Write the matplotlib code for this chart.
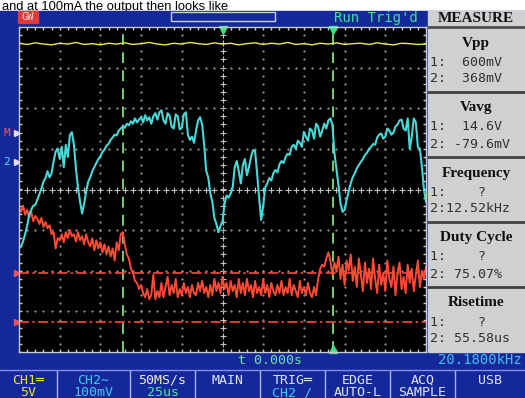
import matplotlib
matplotlib.use('Agg')
import matplotlib.pyplot as plt
import matplotlib.patches as patches
import numpy as np

W, H = 525, 398

# traces, in screen divisions from centre (10 x 8 divisions)
ch1_div = [3.60, 3.57, 3.61, 3.58, 3.56, 3.60, 3.58, 3.62, 3.57, 3.59,
           3.56, 3.60, 3.58, 3.61, 3.57, 3.59, 3.62, 3.58, 3.56, 3.60,
           3.58, 3.62, 3.59, 3.57, 3.61, 3.58, 3.60, 3.56, 3.59, 3.61,
           3.57, 3.60, 3.58, 3.62, 3.57, 3.59, 3.56, 3.60, 3.58, 3.61,
           3.57, 3.59, 3.60, 3.57, 3.61, 3.58, 3.56, 3.60, 3.59, 3.57, 3.58]

ch2_div = [-1.45, -1.40, -1.28, -1.10, -0.90, -0.62, -0.50, -0.40, -0.38, -0.25,
           -0.12, 0.02, 0.19, 0.28, 0.45, 0.30, 0.40, 0.69, 0.93, 1.01,
           0.75, 1.05, 0.55, 1.10, 0.80, 1.34, 1.41, 1.10, 0.50, 0.05,
           -0.30, -0.59, -0.35, -0.05, 0.19, 0.30, 0.45, 0.55, 0.65, 0.75,
           0.82, 0.92, 0.98, 1.08, 1.12, 1.22, 1.28, 1.35, 1.33, 1.45,
           1.50, 1.55, 1.52, 1.62, 1.58, 1.68, 1.62, 1.75, 1.65, 1.72,
           1.78, 1.65, 1.83, 1.70, 1.78, 1.62, 1.80, 1.88, 1.72, 1.90,
           1.95, 1.70, 1.62, 1.88, 1.82, 1.55, 1.50, 1.85, 1.80, 1.48,
           1.52, 1.85, 1.90, 1.35, 1.22, 1.30, 1.15, 1.45, 1.70, 1.78,
           1.60, 1.10, 0.45, 0.30, -0.10, -0.30, -0.70, -0.85, -1.05, -0.90,
           -0.80, -0.35, -0.15, -0.20, -0.10, 0.05, 0.55, 0.70, 0.45, 0.15,
           0.60, 0.75, 0.35, 0.55, 0.80, 0.97, 0.95, 0.40, -0.20, -0.75,
           -0.40, 0.05, 0.15, 0.28, 0.22, 0.40, 0.48, 0.42, 0.62, 0.70,
           0.65, 0.80, 0.88, 0.85, 1.05, 1.10, 1.00, 1.20, 1.15, 1.05,
           1.42, 1.30, 1.20, 1.50, 1.45, 1.25, 1.62, 1.55, 1.30, 1.45,
           1.62, 1.50, 1.70, 1.75, 1.60, 0.90, 0.50, 0.10, -0.35, -0.55,
           -0.50, -0.25, -0.05, 0.15, 0.30, 0.40, 0.52, 0.60, 0.68, 0.75,
           0.85, 0.90, 1.00, 1.05, 1.12, 1.10, 1.28, 1.35, 1.38, 1.25,
           1.30, 1.50, 1.45, 1.35, 1.40, 1.55, 1.60, 1.70, 1.72, 1.50,
           1.45, 1.75, 1.00, 1.30, 1.75, 1.65, 1.05, 1.00, 0.55, 0.00,
           -0.30]

ref_div = [-0.45, -0.55, -0.40, -0.62, -0.50, -0.70, -0.55, -0.78, -0.65, -0.72,
           -0.85, -0.70, -0.92, -0.80, -0.95, -0.88, -1.10, -1.05, -1.45, -1.20,
           -1.25, -1.10, -1.30, -1.05, -1.20, -1.00, -1.15, -1.10, -1.28, -1.05,
           -1.25, -1.15, -1.35, -1.10, -1.30, -1.40, -1.20, -1.50, -1.25, -1.45,
           -1.30, -1.55, -1.35, -1.60, -1.40, -1.65, -1.45, -1.75, -1.30, -1.50,
           -1.10, -1.05, -1.35, -1.60, -1.70, -1.95, -2.05, -2.25, -2.30, -2.45,
           -2.35, -2.55, -2.65, -2.45, -2.70, -2.60, -2.10, -2.70, -2.50, -2.65,
           -2.30, -2.65, -2.40, -2.15, -2.60, -2.35, -2.55, -2.20, -2.65, -2.45,
           -2.60, -2.30, -2.55, -2.40, -2.65, -2.35, -2.55, -2.60, -2.30, -2.50,
           -2.25, -2.55, -2.40, -2.65, -2.35, -2.60, -2.20, -2.50, -2.30, -2.55,
           -2.15, -2.45, -2.30, -2.60, -2.25, -2.50, -2.35, -2.65, -2.20, -2.55,
           -2.30, -2.60, -2.20, -2.50, -2.35, -2.65, -2.25, -2.55, -2.40, -2.60,
           -2.20, -2.55, -2.35, -2.65, -2.30, -2.50, -2.60, -2.35, -2.55, -2.25,
           -2.60, -2.40, -2.55, -2.20, -2.60, -2.35, -2.50, -2.65, -2.25, -2.55,
           -2.40, -2.60, -2.30, -2.55, -2.65, -2.40, -2.60, -2.20, -1.95, -1.85,
           -1.90, -1.70, -1.55, -1.75, -2.10, -1.80, -2.00, -1.65, -2.20, -1.85,
           -2.35, -1.75, -2.00, -1.60, -2.25, -1.90, -2.40, -1.70, -2.10, -2.50,
           -1.80, -2.30, -1.95, -2.45, -1.70, -2.20, -2.55, -1.85, -2.35, -2.05,
           -2.50, -1.75, -2.20, -2.40, -1.90, -2.60, -2.05, -1.80, -2.45, -2.15,
           -2.55, -1.85, -2.30, -1.95, -2.50, -2.10, -1.75, -2.40, -2.00, -2.20,
           -1.90]

cursor_t = [-2.44, 2.72]
cursor_v = [-2.06, -3.26]

measure_names = ['Vpp', 'Vavg', 'Frequency', 'Duty Cycle', 'Risetime']
measure_ch1 = ['1:  600mV', '1:  14.6V', '1:    ?', '1:    ?', '1:    ?']
measure_ch2 = ['2:  368mV', '2: -79.6mV', '2:12.52kHz', '2: 75.07%', '2: 55.58us']

menu_top = ['CH1\u2550', 'CH2\u223c', '50MS/s', 'MAIN', 'TRIG\u2550', 'EDGE', 'ACQ', 'USB']
menu_bottom = ['5V', '100mV', '25us', '', 'CH2 /', 'AUTO-L', 'SAMPLE', '']
menu_top_col = ['#f0e030', '#40c8f0', '#f0f0c0', '#dde4ff', '#dde4ff', '#dde4ff', '#dde4ff', '#dde4ff']
menu_bot_col = ['#f0e030', '#40c8f0', '#50e0a0', '#dde4ff', '#40c8f0', '#dde4ff', '#dde4ff', '#dde4ff']

BLUE = '#14289a'
GRAY = '#d0d0d0'
MONO = 'DejaVu Sans Mono'

fig = plt.figure(figsize=(W / 100, H / 100), dpi=100)
fig.patch.set_facecolor(BLUE)

# pixel canvas for the frame around the screen
bg = fig.add_axes([0, 0, 1, 1])
bg.set_xlim(0, W)
bg.set_ylim(H, 0)
bg.axis('off')

bg.text(2, 9.6, 'and at 100mA the output then looks like', fontsize=9.3,
        family='Liberation Sans', color='black', va='baseline', zorder=1)
bg.add_patch(patches.Rectangle((0, -5), W, 15, color='white', zorder=0))
bg.add_patch(patches.Rectangle((0, 10.5), W, H, color=BLUE, zorder=2))

# top bar
bg.add_patch(patches.Rectangle((18, 11), 20, 12, color='#e03a3a', zorder=3))
bg.text(28, 17.5, 'GW', fontsize=7.5, family=MONO, color='#ffd0d0',
        ha='center', va='center', zorder=4)
bg.add_patch(patches.Rectangle((171, 12), 104, 9, fill=False,
                               edgecolor='#c8d0f0', lw=1, zorder=3))
bg.text(418, 18, "Run Trig'd", fontsize=10, family=MONO, color='#40e090',
        ha='right', va='center', zorder=4)

# measure panel
bg.add_patch(patches.Rectangle((428, 10.5), 97, 341.5, color=GRAY, zorder=3))
bg.text(476, 18.5, 'MEASURE', fontsize=11, family='Liberation Serif',
        weight='bold', color='#101010', ha='center', va='center', zorder=4)
bg.plot([428, 525], [27, 27], color='#505050', lw=2, zorder=4)
sect_top = [29, 94, 159, 224, 289]
for i, name in enumerate(measure_names):
    y0 = sect_top[i]
    bg.text(476, y0 + 14, name, fontsize=11, family='Liberation Serif',
            weight='bold', color='#101010', ha='center', va='center', zorder=4)
    bg.text(430, y0 + 33, measure_ch1[i], fontsize=9.5, family=MONO,
            color='#303030', va='center', zorder=4)
    bg.text(430, y0 + 50, measure_ch2[i], fontsize=9.5, family=MONO,
            color='#303030', va='center', zorder=4)
    if i > 0:
        bg.plot([428, 525], [y0 - 2, y0 - 2], color='#404040', lw=2, zorder=4)

# bottom status + menu
bg.text(270, 360, 't 0.000s', fontsize=9.5, family=MONO, color='#70e0a0',
        ha='center', va='center', zorder=4)
bg.text(522, 360, '20.1800kHz', fontsize=10, family=MONO, color='#40c0f0',
        ha='right', va='center', zorder=4)
bg.plot([0, W], [370, 370], color='#8090e0', lw=1, zorder=4)
cell_edges = [0, 57, 130, 195, 260, 325, 390, 455, 525]
for e in cell_edges[1:-1]:
    bg.plot([e, e], [371, H], color='#a8b4ff', lw=1, zorder=4)
for i in range(len(menu_top)):
    cx = (cell_edges[i] + cell_edges[i + 1]) / 2
    bg.text(cx, 380, menu_top[i], fontsize=9.5, family=MONO,
            color=menu_top_col[i], ha='center', va='center', zorder=4)
    bg.text(cx, 393, menu_bottom[i], fontsize=9.5, family=MONO,
            color=menu_bot_col[i], ha='center', va='center', zorder=4)

# screen
ax = fig.add_axes([19 / W, 1 - 352 / H, 407 / W, 325 / H])
ax.set_facecolor('black')
ax.set_xlim(-5, 5)
ax.set_ylim(-4, 4)
ax.set_xticks([])
ax.set_yticks([])
for s in ax.spines.values():
    s.set_color('#c8c8d8')
    s.set_linewidth(1)

dots = np.arange(-5, 5.01, 0.2)
vdots = np.arange(-4, 4.01, 0.2)
for gx in range(-4, 5):
    if gx == 0:
        ax.plot(np.zeros_like(vdots), vdots, '+', color='#c0c0c0', ms=4, mew=0.8)
    else:
        ax.plot(np.full_like(vdots, gx), vdots, '.', color='#909090', ms=1.3)
for gy in range(-3, 4):
    if gy == 0:
        ax.plot(dots, np.zeros_like(dots), '+', color='#c0c0c0', ms=4, mew=0.8)
    else:
        ax.plot(dots, np.full_like(dots, gy), '.', color='#909090', ms=1.3)
ax.plot(np.full_like(vdots, -5), vdots, '_', color='#c8c8d8', ms=5)
ax.plot(np.full_like(vdots, 5), vdots, '_', color='#c8c8d8', ms=5)
ax.plot(dots, np.full_like(dots, 4), '|', color='#c8c8d8', ms=5)
ax.plot(dots, np.full_like(dots, -4), '|', color='#c8c8d8', ms=5)

for t in cursor_t:
    ax.axvline(t, color='#80e080', lw=1.3, dashes=(6, 4))
for v in cursor_v:
    ax.axhline(v, color='#ff4a3a', lw=1.2, dashes=(6, 2, 1.5, 2))

t1 = np.linspace(-5, 5, len(ch1_div))
t2 = np.linspace(-5, 5, len(ch2_div))
t3 = np.linspace(-5, 5, len(ref_div))
ax.plot(t1, ch1_div, color='#e8e850', lw=1.0)
ax.plot(t3, ref_div, color='#ff4a34', lw=1.4)
ax.plot(t2, ch2_div, color='#48d8d8', lw=1.5)

ax.plot([0, cursor_t[1]], [3.93, 3.93], 'v', color='#40e080', ms=6, clip_on=False)
ax.plot([cursor_t[1]], [-3.93], '^', color='#40e080', ms=6, clip_on=False)

# ground / level markers in the left margin
bg.text(3, 133, 'M', fontsize=8, family=MONO, color='#ff5050', va='center', zorder=4)
bg.text(3, 162, '2', fontsize=8, family=MONO, color='#50e0f0', va='center', zorder=4)
bg.plot([17, 17], [133, 162], '>', color='#e0e0f0', ms=4, zorder=4)
bg.plot([17, 17], [273, 322], '>', color='#ff5050', ms=4, zorder=4)

fig.savefig('out.png', dpi=100, facecolor=fig.get_facecolor())
